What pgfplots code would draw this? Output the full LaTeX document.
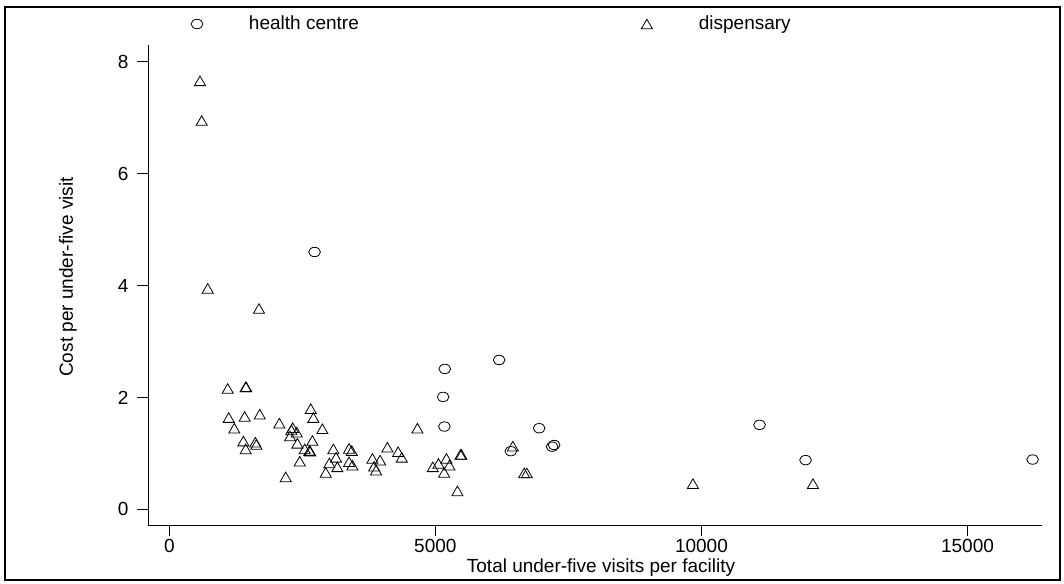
\documentclass[border=0pt]{standalone}
\usepackage{pgfplots}
\pgfplotsset{compat=1.18}
\usepackage{fontspec}
\setmainfont{Liberation Sans}
\begin{document}
\fontsize{19}{23}\selectfont
\begin{tikzpicture}
\useasboundingbox (0,0) rectangle (1064pt,583pt);
\begin{axis}[
  at={(148pt,58pt)}, anchor=south west,
  scale only axis, width=894pt, height=480pt,
  xmin=-400, xmax=16400, ymin=-0.28, ymax=8.30,
  axis x line*=bottom, axis y line*=left,
  axis line style={line width=0.8pt,-},
  xtick={0,5000,10000,15000}, ytick={0,2,4,6,8},
  tick align=outside, major tick length=11pt,
  tick style={line width=0.8pt, black},
  scaled x ticks=false,
  /pgf/number format/1000 sep={},
  /pgf/number format/assume math mode=true,
  tick label style={font=\fontsize{19}{23}\selectfont},
  yticklabel style={xshift=-2pt},
  xticklabel style={yshift=3pt},
  xlabel={Total under-five visits per facility},
  ylabel={Cost per under-five visit},
  every axis x label/.style={at={(axis description cs:0.5067,-0.0885)}, anchor=center, font=\fontsize{19}{23}\selectfont},
  every axis y label/.style={at={(axis description cs:-0.0895,0.5167)}, rotate=90, anchor=center, font=\fontsize{19}{23}\selectfont},
  legend image code/.code={\path[draw=none,fill=none] (-6pt,-5pt) rectangle (52pt,5pt); \draw[#1] plot coordinates {(0pt,0pt)};},
  legend columns=2,
  legend style={draw=none, fill=none, inner sep=0pt, outer sep=0pt, nodes={inner sep=0pt},
    anchor=west, at={(axis description cs:0.0481,1.04375)},
    font=\fontsize{19}{23}\selectfont,
    /tikz/every even column/.append style={column sep=282pt}},
]
\addplot[only marks, mark=o, mark size=4.7pt, mark options={xscale=1.25, line width=0.8pt, black}] coordinates {
(2730,4.60) (5177,2.51) (6198,2.67) (5146,2.01) (5170,1.48) (6951,1.45)
(7195,1.12) (7232,1.15) (6418,1.04) (11092,1.51) (11957,0.88) (16224,0.89)
};
\addlegendentry{health centre}
\addplot[only marks, mark=triangle, mark size=6.4pt, mark options={line width=0.8pt, black, yshift=-1.6pt}] coordinates {
(577,7.66) (609,6.95) (722,3.95) (1686,3.59)
(1098,2.16) (1436,2.19) (1445,2.19) (1117,1.64) (1417,1.66) (1700,1.70)
(1222,1.45) (1392,1.22) (1436,1.08) (1617,1.20) (1636,1.16) (2068,1.54)
(2320,1.46) (2294,1.42) (2395,1.38) (2270,1.31) (2658,1.80) (2708,1.64)
(2877,1.44) (2407,1.18) (2689,1.23) (2545,1.08) (2633,1.05) (2650,1.04)
(2451,0.86) (2188,0.58) (3083,1.08) (3134,0.93) (3008,0.83) (3158,0.76)
(2940,0.66) (3378,1.09) (3429,1.05) (3378,0.85) (3441,0.79) (3817,0.91)
(3961,0.88) (3849,0.77) (3886,0.70) (4099,1.11) (4300,1.03) (4369,0.93)
(4663,1.45) (4952,0.76) (5058,0.82) (5208,0.91) (5264,0.79) (5165,0.66)
(5415,0.33) (5471,0.98) (5490,0.98) (6456,1.13) (6669,0.65) (6719,0.65)
(9840,0.46) (12096,0.46)
};
\addlegendentry{dispensary}
\end{axis}
\draw[line width=2.5pt] (5pt,3pt) rectangle (1060pt,576pt);
\end{tikzpicture}
\end{document}
